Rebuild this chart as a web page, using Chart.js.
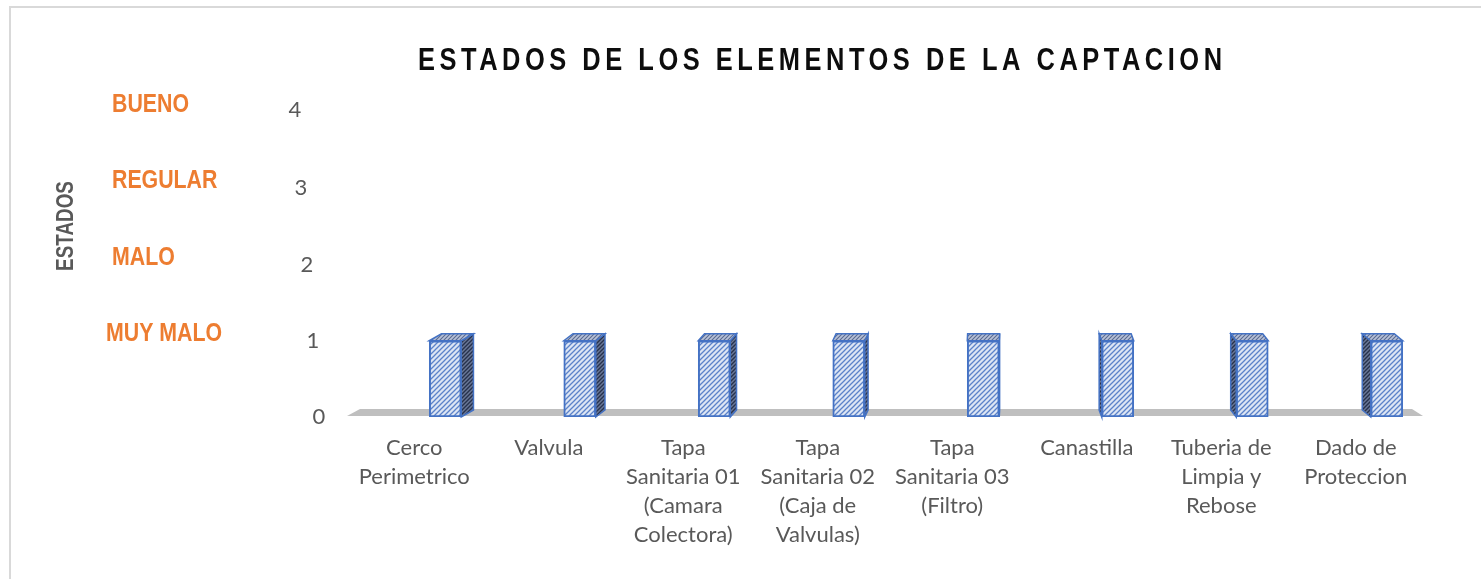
<!DOCTYPE html>
<html>
<head>
<meta charset="utf-8">
<script src="https://cdn.jsdelivr.net/npm/chart.js@4/dist/chart.umd.min.js"></script>
<style>
  html, body { margin: 0; padding: 0; background: #fff; }
  canvas { display: block; }
</style>
</head>
<body>
<canvas id="chart" width="1481" height="579"></canvas>
<script>
const titulo = "ESTADOS DE LOS ELEMENTOS DE LA CAPTACION";
const ejeY = "ESTADOS";
const elementos = [
  ["Cerco", "Perimetrico"],
  ["Valvula"],
  ["Tapa", "Sanitaria 01", "(Camara", "Colectora)"],
  ["Tapa", "Sanitaria 02", "(Caja de", "Valvulas)"],
  ["Tapa", "Sanitaria 03", "(Filtro)"],
  ["Canastilla"],
  ["Tuberia de", "Limpia y", "Rebose"],
  ["Dado de", "Proteccion"]
];
const estadoActual = [1, 1, 1, 1, 1, 1, 1, 1];
const valoresY = [0, 1, 2, 3, 4];
const estados = ["MUY MALO", "MALO", "REGULAR", "BUENO"]; // valores 1..4

const sans = '"Liberation Sans", Arial, sans-serif';
const NARROW = 0.82; // imita Arial Narrow

function hatch(bg, fg, size, lw) {
  const c = document.createElement("canvas");
  c.width = c.height = size;
  const g = c.getContext("2d");
  g.fillStyle = bg;
  g.fillRect(0, 0, size, size);
  g.strokeStyle = fg;
  g.lineWidth = lw;
  g.beginPath();
  g.moveTo(-1, 1); g.lineTo(1, -1);
  g.moveTo(-1, size + 1); g.lineTo(size + 1, -1);
  g.moveTo(size - 1, size + 1); g.lineTo(size + 1, size - 1);
  g.stroke();
  return g.createPattern(c, "repeat");
}

const frente = hatch("#dce5f4", "#5b82c9", 5, 1.3);
const lado = hatch("#6a7898", "#27324d", 4, 1.4);
const tapa = hatch("#b7c1d8", "#5a6b90", 4, 1.1);

function narrowText(ctx, txt, x, y, align) {
  ctx.save();
  ctx.translate(x, y);
  ctx.scale(NARROW, 1);
  ctx.textAlign = align;
  ctx.fillText(txt, 0, 0);
  ctx.restore();
}

// caras laterales y superiores de las columnas 3D, piso y textos
const extras = {
  id: "extras",
  beforeDraw(chart) {
    const ctx = chart.ctx;
    ctx.save();
    ctx.fillStyle = "#fff";
    ctx.fillRect(0, 0, chart.width, chart.height);
    ctx.strokeStyle = "#d9d9d9";
    ctx.lineWidth = 2;
    ctx.strokeRect(10, 7, chart.width + 10, chart.height + 10);
    ctx.restore();
  },
  beforeDatasetsDraw(chart) {
    const ctx = chart.ctx;
    const a = chart.chartArea;
    const y0 = chart.scales.y.getPixelForValue(0);
    ctx.save();
    // piso
    ctx.fillStyle = "#bfbfbf";
    ctx.beginPath();
    ctx.moveTo(a.left - 31, y0 - 1);
    ctx.lineTo(a.right - 31, y0 - 1);
    ctx.lineTo(a.right - 42, y0 - 8);
    ctx.lineTo(a.left - 18, y0 - 8);
    ctx.closePath();
    ctx.fill();

    const vp = 1000, k = 0.022, dy = 7;
    chart.getDatasetMeta(0).data.forEach(bar => {
      const w = bar.width;
      const l = bar.x - w / 2, r = bar.x + w / 2;
      const t = bar.y, b = bar.base;
      const dx = (vp - bar.x) * k;
      const sx = dx > 0 ? r : l;
      ctx.lineWidth = 1.5;
      ctx.strokeStyle = "#4472c4";
      ctx.fillStyle = lado;
      ctx.beginPath();
      ctx.moveTo(sx, t);
      ctx.lineTo(sx + dx, t - dy);
      ctx.lineTo(sx + dx, b - dy);
      ctx.lineTo(sx, b);
      ctx.closePath();
      ctx.fill();
      ctx.stroke();
      ctx.fillStyle = tapa;
      ctx.beginPath();
      ctx.moveTo(l, t);
      ctx.lineTo(l + dx, t - dy);
      ctx.lineTo(r + dx, t - dy);
      ctx.lineTo(r, t);
      ctx.closePath();
      ctx.fill();
      ctx.stroke();
    });
    ctx.restore();
  },
  afterDraw(chart) {
    const ctx = chart.ctx;
    const ys = chart.scales.y;
    const a = chart.chartArea;
    ctx.save();
    ctx.textBaseline = "middle";

    // titulo con espaciado entre letras
    ctx.fillStyle = "#0d0d0d";
    ctx.font = "bold 31px " + sans;
    const base = ctx.measureText(titulo).width;
    const esp = (804 / NARROW - base) / (titulo.length - 1);
    ctx.letterSpacing = esp + "px";
    ctx.save();
    ctx.translate(418, 61);
    ctx.scale(NARROW, 1);
    ctx.textAlign = "left";
    ctx.fillText(titulo, 0, 0);
    ctx.restore();
    ctx.letterSpacing = "0px";

    // valores del eje
    ctx.fillStyle = "#595959";
    ctx.font = "22px Lato, sans-serif";
    ctx.textAlign = "center";
    valoresY.forEach(v => {
      ctx.fillText(String(v), a.left - 59 - v * 6, ys.getPixelForValue(v) - (v === 4 ? 2 : 0));
    });

    // estados
    ctx.fillStyle = "#ed7d31";
    ctx.font = "bold 26px " + sans;
    estados.forEach((txt, i) => {
      narrowText(ctx, txt, i === 0 ? 106 : 112, ys.getPixelForValue(i + 1) - 7, "left");
    });

    // titulo eje Y
    ctx.fillStyle = "#595959";
    ctx.font = "bold 23px " + sans;
    ctx.save();
    ctx.translate(67, 226);
    ctx.rotate(-Math.PI / 2);
    narrowText(ctx, ejeY, 0, 0, "center");
    ctx.restore();
    ctx.restore();
  }
};

new Chart(document.getElementById("chart"), {
  type: "bar",
  data: {
    labels: elementos,
    datasets: [{
      data: estadoActual,
      backgroundColor: frente,
      borderColor: "#4472c4",
      borderWidth: 2,
      borderSkipped: false,
      barThickness: 32
    }]
  },
  options: {
    responsive: false,
    animation: false,
    layout: { padding: { left: 378, right: 27, top: 112, bottom: 4 } },
    plugins: {
      legend: { display: false },
      title: { display: false },
      tooltip: { enabled: false }
    },
    scales: {
      x: {
        grid: { display: false },
        border: { display: false },
        ticks: {
          color: "#595959",
          font: { family: "Lato", size: 22, lineHeight: 1.32 },
          padding: 8,
          labelOffset: -31,
          maxRotation: 0,
          autoSkip: false
        },
        afterFit(scale) { scale.height = 158; }
      },
      y: {
        display: false,
        min: 0,
        max: 4,
        ticks: { stepSize: 1 }
      }
    }
  },
  plugins: [extras]
});
</script>
</body>
</html>
